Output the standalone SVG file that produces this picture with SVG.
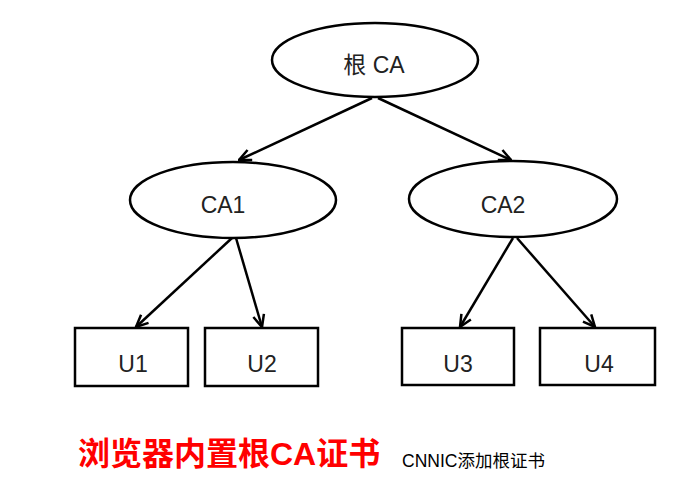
<svg xmlns="http://www.w3.org/2000/svg" width="686" height="494" viewBox="0 0 686 494">
<style>
.n{fill:#fff;stroke:#000;stroke-width:2.5}
.t{font-family:"Liberation Sans","Noto Sans CJK SC",sans-serif;font-size:23px;fill:#222;text-anchor:middle}
.c{stroke:#000;stroke-width:2.5;fill:none;marker-end:url(#a)}
</style>
<defs>
<marker id="a" markerWidth="14" markerHeight="14" viewBox="0 0 14 14" refX="13" refY="7" orient="auto" markerUnits="userSpaceOnUse">
<path d="M1,1.5 L13,7 L1,12.5" fill="none" stroke="#000" stroke-width="2.5"/>
</marker>
</defs>
<rect width="686" height="494" fill="#fff"/>
<g id="connectors">
<line class="c" x1="372" y1="98" x2="239" y2="160"/>
<line class="c" x1="378" y1="98" x2="511" y2="160"/>
<line class="c" x1="232" y1="238" x2="136" y2="327"/>
<line class="c" x1="236" y1="238" x2="262" y2="327"/>
<line class="c" x1="513" y1="238" x2="460" y2="327"/>
<line class="c" x1="517" y1="238" x2="595" y2="327"/>
</g>
<g id="root"><ellipse class="n" cx="375" cy="60" rx="103" ry="37"/><text class="t" x="374" y="73">根 CA</text></g>
<g id="ca1"><ellipse class="n" cx="233" cy="200" rx="103" ry="38"/><text class="t" x="223" y="213">CA1</text></g>
<g id="ca2"><ellipse class="n" cx="513" cy="199" rx="104" ry="38"/><text class="t" x="503" y="213">CA2</text></g>
<g id="u1"><rect class="n" x="75" y="328" width="113" height="58"/><text class="t" x="133" y="372">U1</text></g>
<g id="u2"><rect class="n" x="205" y="328" width="113" height="58"/><text class="t" x="262" y="372">U2</text></g>
<g id="u3"><rect class="n" x="402" y="328" width="112" height="57"/><text class="t" x="458" y="372">U3</text></g>
<g id="u4"><rect class="n" x="540" y="328" width="115" height="57"/><text class="t" x="599" y="372">U4</text></g>
<text x="78" y="465" style="font-family:'Liberation Sans','Noto Sans CJK SC',sans-serif;font-size:32px;font-weight:bold;fill:#f00">浏览器内置根CA证书</text>
<text x="402" y="467" style="font-family:'Liberation Sans','Noto Sans CJK SC',sans-serif;font-size:17.5px;fill:#000">CNNIC添加根证书</text>
</svg>
